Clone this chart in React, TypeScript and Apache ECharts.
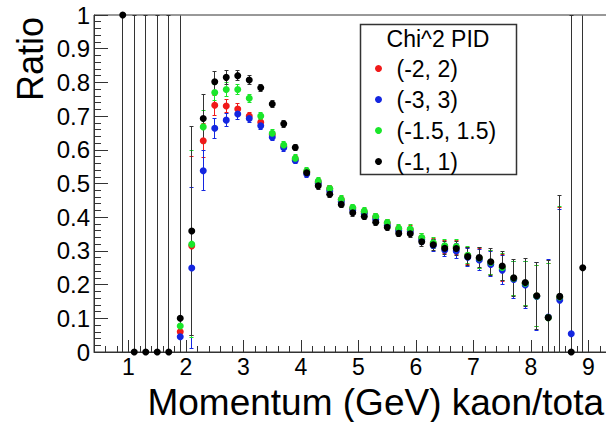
import React, { useEffect, useRef } from "react";
import * as echarts from "echarts";

const FONT = "'Liberation Sans', Arial, Helvetica, sans-serif";

// Bin centres (GeV)
const momentum = [
  0.9, 1.1, 1.3, 1.5, 1.7, 1.9, 2.1, 2.3, 2.5, 2.7, 2.9, 3.1, 3.3, 3.5, 3.7, 3.9, 4.1,
  4.3, 4.5, 4.7, 4.9, 5.1, 5.3, 5.5, 5.7, 5.9, 6.1, 6.3, 6.5, 6.7, 6.9, 7.1, 7.3, 7.5,
  7.7, 7.9, 8.1, 8.3, 8.5, 8.7, 8.9,
];

// (-2, 2)
const ratioRed = [
  null, null, null, null, null, 0.06, 0.315, 0.627, 0.732, 0.73, 0.721, 0.7, 0.682, 0.645,
  0.61, 0.572, 0.535, 0.504, 0.484, 0.452, 0.426, 0.415, 0.4, 0.382, 0.365, 0.363, 0.338,
  0.322, 0.312, 0.31, 0.286, 0.278, 0.265, 0.25, 0.218, 0.203, 0.166, 0.103, 0.16, null, null,
];
const errRed = [
  0, 0, 0, 0, 0, 0, 0.265, 0.05, 0.03, 0.02, 0.015, 0.012, 0.01, 0.01, 0.01, 0.01, 0.01,
  0.01, 0.01, 0.01, 0.01, 0.01, 0.01, 0.01, 0.01, 0.012, 0.013, 0.016, 0.02, 0.02, 0.025,
  0.03, 0.035, 0.04, 0.05, 0.065, 0.09, 0.16, 0.27, 0, 0,
];

// (-3, 3)
const ratioBlue = [
  null, null, null, null, null, 0.045, 0.249, 0.538, 0.664, 0.688, 0.706, 0.693, 0.671,
  0.637, 0.606, 0.568, 0.528, 0.5, 0.478, 0.446, 0.421, 0.41, 0.393, 0.376, 0.36, 0.357,
  0.333, 0.316, 0.303, 0.3, 0.281, 0.273, 0.26, 0.243, 0.215, 0.199, 0.165, 0.104, 0.154,
  0.054, null,
];
const errBlue = [
  0, 0, 0, 0, 0, 0, 0.24, 0.06, 0.03, 0.02, 0.015, 0.012, 0.01, 0.01, 0.01, 0.01, 0.01,
  0.01, 0.01, 0.01, 0.01, 0.01, 0.01, 0.01, 0.01, 0.012, 0.014, 0.017, 0.02, 0.022, 0.027,
  0.032, 0.037, 0.042, 0.055, 0.07, 0.1, 0.17, 0.27, 0, 0,
];

// (-1.5, 1.5)
const ratioGreen = [
  null, null, null, null, null, 0.077, 0.32, 0.668, 0.77, 0.779, 0.779, 0.753, 0.7, 0.649,
  0.614, 0.575, 0.537, 0.507, 0.485, 0.453, 0.429, 0.418, 0.402, 0.384, 0.367, 0.365, 0.34,
  0.324, 0.315, 0.313, 0.287, 0.279, 0.266, 0.251, 0.219, 0.204, 0.166, 0.102, 0.163, null,
  null,
];
const errGreen = [
  0, 0, 0, 0, 0, 0, 0.277, 0.05, 0.025, 0.02, 0.015, 0.012, 0.01, 0.01, 0.01, 0.01, 0.01,
  0.01, 0.01, 0.01, 0.01, 0.01, 0.01, 0.01, 0.01, 0.012, 0.013, 0.016, 0.02, 0.02, 0.025,
  0.03, 0.035, 0.04, 0.05, 0.065, 0.09, 0.16, 0.27, 0, 0,
];

// (-1, 1)
const ratioBlack = [
  1.0, 0, 0, 0, 0, 0.1, 0.359, 0.693, 0.802, 0.815, 0.82, 0.807, 0.784, 0.736, 0.677, 0.607,
  0.532, 0.493, 0.468, 0.438, 0.413, 0.402, 0.385, 0.37, 0.352, 0.351, 0.327, 0.318, 0.308,
  0.307, 0.283, 0.28, 0.268, 0.255, 0.22, 0.206, 0.167, 0.102, 0.165, 0, 0.25,
];
const errBlack = [
  1, 1, 1, 1, 1, 1, 0.31, 0.07, 0.03, 0.02, 0.015, 0.012, 0.01, 0.01, 0.01, 0.01, 0.01,
  0.01, 0.01, 0.01, 0.01, 0.01, 0.01, 0.01, 0.01, 0.012, 0.013, 0.016, 0.02, 0.02, 0.027,
  0.03, 0.04, 0.043, 0.055, 0.07, 0.1, 0.17, 0.3, 1, 1,
];

const xMajorTicks = [1, 2, 3, 4, 5, 6, 7, 8, 9];

const legendTitle = "Chi^2 PID";
const seriesNames = ["(-2, 2)", "(-3, 3)", "(-1.5, 1.5)", "(-1, 1)"];
const seriesColors = ["#f01a1a", "#1426e0", "#1ae62a", "#000000"];
const seriesValues = [ratioRed, ratioBlue, ratioGreen, ratioBlack];
const seriesErrors = [errRed, errBlue, errGreen, errBlack];

const xTitle = "Momentum (GeV) kaon/tota";
const yTitle = "Ratio";

function rows(values: (number | null)[], errs: number[]) {
  const out: number[][] = [];
  values.forEach((v, i) => {
    if (v !== null && v !== undefined) out.push([momentum[i], v, errs[i] || 0]);
  });
  return out;
}

const snap = (v: number) => Math.round(v - 0.5) + 0.5;

function errorSeries(name: string, color: string, data: number[][]) {
  const stroke = color === "#000000" ? "#333" : color;
  return {
    type: "custom",
    name: "err " + name,
    xAxisIndex: 0,
    yAxisIndex: 0,
    silent: true,
    data,
    encode: { x: 0, y: 1 },
    renderItem: (params: any, api: any) => {
      const x = api.value(0);
      const y = api.value(1);
      const e = api.value(2);
      if (!e) return { type: "group", children: [] };
      const lo = Math.max(0, y - e);
      const hi = Math.min(1, y + e);
      const p1 = api.coord([x, lo]);
      const p2 = api.coord([x, hi]);
      const px = snap(p1[0]);
      const y1 = snap(p1[1]);
      const y2 = snap(p2[1]);
      const st = { stroke, lineWidth: 1 };
      const children: any[] = [
        { type: "line", shape: { x1: px, y1, x2: px, y2 }, style: st },
      ];
      if (y - e >= 0)
        children.push({ type: "line", shape: { x1: px - 2, y1, x2: px + 2, y2: y1 }, style: st });
      if (y + e <= 1)
        children.push({ type: "line", shape: { x1: px - 2, y1: y2, x2: px + 2, y2 }, style: st });
      return { type: "group", children };
    },
  };
}

export default function App() {
  const ref = useRef<HTMLDivElement>(null);

  useEffect(() => {
    if (!ref.current) return;
    const chart = echarts.init(ref.current, null, { renderer: "svg" });

    const series: any[] = [];
    seriesNames.forEach((name, k) => {
      const data = rows(seriesValues[k], seriesErrors[k]);
      series.push(errorSeries(name, seriesColors[k], data));
      series.push({
        type: "scatter",
        name,
        xAxisIndex: 0,
        yAxisIndex: 0,
        data: data.map((r) => [r[0], r[1]]),
        symbol: "circle",
        symbolSize: 7,
        itemStyle: { color: seriesColors[k], opacity: 1 },
        emphasis: { disabled: true },
      });
    });

    const axisLine = { show: true, onZero: false, lineStyle: { color: "#333", width: 1 } };

    chart.setOption({
      animation: false,
      backgroundColor: "#fff",
      grid: {
        left: 94,
        top: 15,
        width: 552,
        height: 337,
        show: true,
        borderColor: "#333",
        borderWidth: 1,
        backgroundColor: "transparent",
      },
      xAxis: [
        {
          type: "value",
          min: 0.4,
          max: 10,
          interval: 0.2,
          axisLine,
          axisTick: { show: true, inside: true, length: 6, lineStyle: { color: "#333" } },
          axisLabel: { show: false },
          splitLine: { show: false },
        },
        {
          type: "value",
          min: 0.4,
          max: 10,
          position: "bottom",
          axisLine: { show: false },
          axisTick: {
            show: true,
            inside: true,
            length: 12,
            customValues: xMajorTicks,
            lineStyle: { color: "#333" },
          },
          axisLabel: {
            show: true,
            customValues: xMajorTicks,
            margin: 4,
            fontSize: 23,
            lineHeight: 22,
            color: "#000",
            fontFamily: FONT,
          },
          splitLine: { show: false },
        },
      ],
      yAxis: {
        type: "value",
        min: 0,
        max: 1,
        interval: 0.1,
        axisLine,
        axisTick: { show: true, inside: true, length: 14, lineStyle: { color: "#333" } },
        minorTick: { show: true, splitNumber: 5, length: 7, lineStyle: { color: "#333" } },
        axisLabel: { margin: 4, fontSize: 24, color: "#000", fontFamily: FONT },
        splitLine: { show: false },
        minorSplitLine: { show: false },
      },
      legend: {
        data: seriesNames,
        orient: "vertical",
        left: 375,
        top: 57,
        padding: 0,
        itemWidth: 26,
        itemHeight: 7,
        itemGap: 8,
        icon: "circle",
        selectedMode: false,
        textStyle: { fontSize: 23, color: "#000", fontFamily: FONT, lineHeight: 22 },
      },
      graphic: [
        {
          type: "rect",
          z: 1,
          shape: { x: 360.5, y: 24.5, width: 156, height: 150 },
          style: { fill: "#fff", stroke: "#333", lineWidth: 1.5 },
        },
        {
          type: "text",
          z: 2,
          x: 438,
          y: 39,
          style: {
            text: legendTitle,
            fontSize: 23,
            fontFamily: FONT,
            fill: "#000",
            align: "center",
            verticalAlign: "middle",
          },
        },
        {
          type: "text",
          x: 604,
          y: 402,
          style: {
            text: xTitle,
            fontSize: 37,
            lineHeight: 36,
            fontFamily: FONT,
            fill: "#000",
            align: "right",
            verticalAlign: "middle",
          },
        },
        {
          type: "text",
          x: 30,
          y: 17,
          rotation: Math.PI / 2,
          style: {
            text: yTitle,
            fontSize: 36,
            fontFamily: FONT,
            fill: "#000",
            align: "right",
            verticalAlign: "middle",
          },
        },
      ],
      series,
    });

    return () => chart.dispose();
  }, []);

  return (
    <div
      style={{
        position: "absolute",
        left: 0,
        top: 0,
        width: 606,
        height: 422,
        overflow: "hidden",
        background: "#fff",
      }}
    >
      <div ref={ref} style={{ width: 680, height: 422 }} />
    </div>
  );
}
